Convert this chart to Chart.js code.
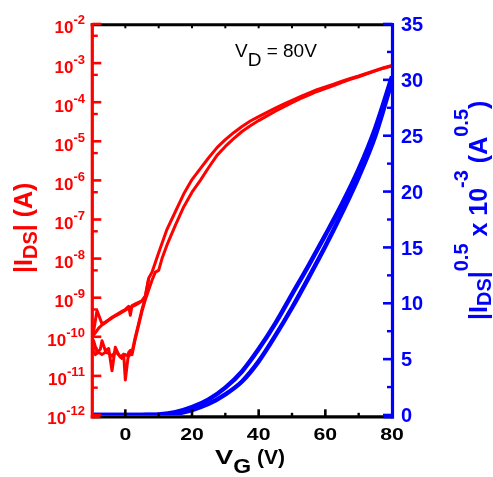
<!DOCTYPE html>
<html><head><meta charset="utf-8">
<script src="https://cdn.jsdelivr.net/npm/chart.js@4.4.1/dist/chart.umd.min.js"></script>
<style>html,body{margin:0;padding:0;background:#fff;overflow:hidden}canvas{display:block}</style>
</head><body>
<canvas id="c" width="493" height="477"></canvas>
<script>
// ---------------- data ----------------
const redUpperVg = [-10,-9.5,-8.5,-7,-6,-5,-4,-3,-2,-1,0,1,1.5,2,3,4,5,6,7,8,9,10,12.5,15,17.5,20,22.5,25,27.5,30,32.5,35,37.5,40,42.5,45,47.5,50,52.5,55,57.5,60,62.5,65,67.5,70,72.5,75,77.5,80];
const redUpperIds = [1.12e-10,1.41e-10,4.68e-10,2.14e-10,2.40e-10,2.75e-10,3.16e-10,3.55e-10,3.98e-10,4.47e-10,
  5.01e-10,6.03e-10,3.55e-10,6.31e-10,6.92e-10,7.59e-10,8.32e-10,1.12e-9,3.16e-9,4.47e-9,7.94e-9,1.41e-8,
  5.62e-8,1.58e-7,4.47e-7,1.05e-6,2.0e-6,3.8e-6,6.9e-6,1.10e-5,1.66e-5,2.40e-5,
  3.31e-5,4.27e-5,5.50e-5,7.08e-5,8.91e-5,1.12e-4,1.38e-4,1.70e-4,2.09e-4,2.45e-4,
  2.88e-4,3.47e-4,4.07e-4,4.68e-4,5.50e-4,6.46e-4,7.59e-4,8.71e-4];

const redUpper2Vg = [-10,-9,-8,-7,-6,-5,-4,-3,-2,-1,0,1,2,3,4,5,6,7];
const redUpper2Ids = [1.0e-10,1.26e-10,1.66e-10,2.0e-10,2.29e-10,2.63e-10,3.02e-10,3.39e-10,3.80e-10,4.27e-10,4.79e-10,5.37e-10,5.89e-10,6.46e-10,7.24e-10,8.32e-10,1.07e-9,3.0e-9];

const redLowerVg = [-10,-9.5,-8.5,-7.5,-7,-6,-5,-4,-3,-2,-1.5,-0.5,0,1,1.5,2,3,4,5,6,7,8,9,10,11,12.5,15,17.5,20,22.5,25,27.5,30,32.5,35,37.5,40,42.5,45,47.5,50,52.5,55,57.5,60,62.5,65,67.5,70,72.5,75,77.5,80];
const redLowerIds = [8.9e-11,7.9e-11,4.0e-11,4.8e-11,7.9e-11,4.4e-11,5.0e-11,1.35e-11,5.4e-11,3.5e-11,
  3.0e-11,3.6e-11,7.9e-12,4.0e-11,4.5e-11,3.5e-11,8.9e-11,2.0e-10,4.5e-10,8.9e-10,
  1.58e-9,2.8e-9,4.5e-9,5.0e-9,1.0e-8,2.24e-8,7.1e-8,2.1e-7,5.0e-7,1.0e-6,
  2.14e-6,4.37e-6,7.4e-6,1.17e-5,1.78e-5,2.51e-5,3.39e-5,4.47e-5,5.89e-5,7.59e-5,
  9.77e-5,1.23e-4,1.51e-4,1.88e-4,2.24e-4,2.66e-4,3.24e-4,3.85e-4,4.47e-4,5.31e-4,
  6.31e-4,7.41e-4,8.51e-4];

const redLower2Vg = [-10,-9,-8,-7,-6,-5,-4,-3,-2,-1,0,1,2,3,4,5,6];
const redLower2Ids = [5.0e-11,3.5e-11,4.0e-11,3.5e-11,4.0e-11,3.8e-11,3.2e-11,4.2e-11,3.5e-11,2.8e-11,3.5e-11,3.2e-11,4.0e-11,1.0e-10,2.2e-10,5.0e-10,1.0e-9];

const blueVg = [-10,0,5,10,15,20,25,30,35,40,45,50,55,60,65,70,75,80];
const blueUpper = [0,0,0.01,0.05,0.25,0.7,1.4,2.45,3.9,5.9,8.2,10.8,13.4,16.1,18.9,22.0,25.7,30.3];
const blueLower = [0,0,0,0,0.1,0.45,1.0,1.85,3.0,4.8,7.1,9.6,12.3,15.1,18.1,21.3,25.0,29.9];

// ---------------- ticks / labels ----------------
const xTickValues = [0,20,40,60,80];
const xTickLabels = ['0','20','40','60','80'];
const xMinorTicks = [10,30,50,70];
const xTopTicks = [0,10,20,30,40,50,60,70];
const logTickValues = [1e-12,1e-11,1e-10,1e-9,1e-8,1e-7,1e-6,1e-5,1e-4,1e-3,1e-2];
const logTickExponents = ['-12','-11','-10','-9','-8','-7','-6','-5','-4','-3','-2'];
const logMinorTicks = [5e-12,5e-11,5e-10,5e-9,5e-8,5e-7,5e-6,5e-5,5e-4,5e-3];
const y2TickValues = [0,5,10,15,20,25,30,35];
const y2TickLabels = ['0','5','10','15','20','25','30','35'];
const y2MinorTicks = [2.5,7.5,12.5,17.5,22.5,27.5,32.5];

const RED = '#ff0000', BLUE = '#0000ff', BLACK = '#000000';
const FONT = '"Liberation Sans", Arial, Helvetica, sans-serif';

function pts(xs, ys){ return xs.map((x,i)=>({x:x, y:ys[i]})); }

function drawRuns(ctx, list, x, y, angle){
  ctx.save();
  ctx.translate(x, y);
  ctx.rotate(angle || 0);
  ctx.textBaseline = 'alphabetic';
  ctx.textAlign = 'left';
  let cx = 0;
  for (const r of list){
    ctx.font = (r.normal ? '' : 'bold ') + r.size + 'px ' + FONT;
    ctx.fillStyle = r.color;
    const sx = r.sx || 1;
    ctx.save();
    ctx.translate(cx, r.dy || 0);
    ctx.scale(sx, 1);
    ctx.fillText(r.t, 0, 0);
    ctx.restore();
    cx += ctx.measureText(r.t).width * sx;
  }
  ctx.restore();
}

function seg(ctx, x1, y1, x2, y2, color, w){
  ctx.beginPath();
  ctx.strokeStyle = color;
  ctx.lineWidth = w;
  ctx.moveTo(x1, y1);
  ctx.lineTo(x2, y2);
  ctx.stroke();
}

const axesPlugin = {
  id: 'originAxes',
  afterDatasetsDraw(chart){
    const ctx = chart.ctx;
    const a = chart.chartArea;
    const xs = chart.scales.x, ys = chart.scales.y, y2 = chart.scales.y2;
    const L = a.left + 0.3, R = a.right + 0.5, T = a.top + 0.8, B = a.bottom + 1.8;
    ctx.save();
    ctx.lineCap = 'butt';
    // top axis (black) with small ticks
    seg(ctx, L - 1.6, T, R + 1.5, T, BLACK, 3);
    for (const v of xTopTicks){ const p = xs.getPixelForValue(v); seg(ctx, p, T, p, T + 3.5, BLACK, 2); }
    // bottom axis (black)
    seg(ctx, L, B, R, B, BLACK, 3.2);
    for (const v of xTickValues){ const p = xs.getPixelForValue(v); if (v < 80) seg(ctx, p, B, p, B - 7.5, BLACK, 2.6); }
    for (const v of xMinorTicks){ const p = xs.getPixelForValue(v); seg(ctx, p, B, p, B - 4, BLACK, 2.4); }
    // coloured ends of the bottom axis
    seg(ctx, L - 1.6, B, L + 8, B, RED, 3.2);
    seg(ctx, R - 9, B, R + 1.5, B, BLUE, 3.2);
    // left axis (red)
    seg(ctx, L, T - 1.5, L, B + 1.6, RED, 3.2);
    for (const v of logTickValues){ const p = ys.getPixelForValue(v); seg(ctx, L, p, L + 9, p, RED, 2.6); }
    for (const v of logMinorTicks){ const p = ys.getPixelForValue(v); seg(ctx, L, p, L + 5.5, p, RED, 2.4); }
    // right axis (blue)
    seg(ctx, R, T - 1.5, R, B + 1.6, BLUE, 3.2);
    for (const v of y2TickValues){ const p = y2.getPixelForValue(v); seg(ctx, R, p, R - 9.5, p, BLUE, 2.6); }
    for (const v of y2MinorTicks){ const p = y2.getPixelForValue(v); seg(ctx, R, p, R - 5.5, p, BLUE, 2.4); }

    // left tick labels 10^n
    ctx.textBaseline = 'alphabetic';
    logTickValues.forEach((v, i) => {
      const p = ys.getPixelForValue(v);
      ctx.font = 'bold 17px ' + FONT;
      const w10 = ctx.measureText('10').width;
      ctx.font = 'bold 13px ' + FONT;
      const we = ctx.measureText(logTickExponents[i]).width;
      const x0 = 85 - w10 - we;
      drawRuns(ctx, [
        {t:'10', size:17, color:RED},
        {t:logTickExponents[i], size:13, color:RED, dy:-9}
      ], x0, p + 9.4, 0);
    });
    // right tick labels
    y2TickValues.forEach((v, i) => {
      const p = y2.getPixelForValue(v);
      drawRuns(ctx, [{t:y2TickLabels[i], size:20, color:BLUE}], 401, p + 7.2, 0);
    });
    // bottom tick labels
    xTickValues.forEach((v, i) => {
      const p = xs.getPixelForValue(v);
      ctx.font = 'bold 17px ' + FONT;
      const w = ctx.measureText(xTickLabels[i]).width * 1.25;
      drawRuns(ctx, [{t:xTickLabels[i], size:17, color:BLACK, sx:1.25}], p - w/2, 440, 0);
    });

    // axis titles
    drawRuns(ctx, [
      {t:'V', size:21, color:BLACK, sx:1.3},
      {t:'G', size:20, color:BLACK, sx:1.15, dy:9},
      {t:' (V)', size:21, color:BLACK}
    ], 215, 464, 0);
    drawRuns(ctx, [
      {t:'|I', size:25, color:RED},
      {t:'DS', size:20, color:RED, dy:5.3},
      {t:'| (A)', size:25, color:RED}
    ], 31.7, 273, -Math.PI/2);
    drawRuns(ctx, [
      {t:'|I', size:25, color:BLUE},
      {t:'DS', size:20, color:BLUE, dy:4},
      {t:'|', size:25, color:BLUE},
      {t:'0.5', size:20, color:BLUE, dy:-19},
      {t:' x 10', size:25, color:BLUE},
      {t:'-3', size:20, color:BLUE, dy:-19},
      {t:' (A', size:25, color:BLUE},
      {t:'0.5', size:20, color:BLUE, dy:-19},
      {t:')', size:25, color:BLUE}
    ], 487, 320, -Math.PI/2);
    // annotation
    drawRuns(ctx, [
      {t:'V', size:19, color:BLACK, normal:true},
      {t:'D', size:19, color:BLACK, normal:true, dy:8.3},
      {t:' = 80V', size:19, color:BLACK, normal:true}
    ], 235, 57.3, 0);
    ctx.restore();
  }
};

const redStyle = {borderColor: RED, borderWidth: 3, pointRadius: 0, tension: 0, yAxisID: 'y', borderJoinStyle: 'round', borderCapStyle: 'round', fill: false};
const blueStyle = {borderColor: BLUE, borderWidth: 4.5, pointRadius: 0, cubicInterpolationMode: 'monotone', yAxisID: 'y2', borderJoinStyle: 'round', fill: false};

new Chart(document.getElementById('c'), {
  type: 'line',
  data: {
    datasets: [
      Object.assign({label:'|IDS| reverse 1', data: pts(redUpperVg, redUpperIds)}, redStyle),
      Object.assign({label:'|IDS| reverse 2', data: pts(redUpper2Vg, redUpper2Ids)}, redStyle),
      Object.assign({label:'|IDS| forward 1', data: pts(redLowerVg, redLowerIds)}, redStyle),
      Object.assign({label:'|IDS| forward 2', data: pts(redLower2Vg, redLower2Ids)}, redStyle),
      Object.assign({label:'sqrt upper', data: pts(blueVg, blueUpper)}, blueStyle),
      Object.assign({label:'sqrt lower', data: pts(blueVg, blueLower)}, blueStyle)
    ]
  },
  options: {
    responsive: false,
    animation: false,
    devicePixelRatio: 1,
    layout: {padding: {top: 24, left: 0, right: 0, bottom: 0}},
    plugins: {legend: {display: false}, tooltip: {enabled: false}},
    scales: {
      x: {type: 'linear', position: 'bottom', min: -10, max: 80,
          grid: {display: false}, border: {display: false}, ticks: {display: false},
          afterFit(s){ s.height = 62; }},
      y: {type: 'logarithmic', position: 'left', min: 1e-12, max: 1e-2,
          grid: {display: false}, border: {display: false}, ticks: {display: false},
          afterFit(s){ s.width = 92; }},
      y2: {type: 'linear', position: 'right', min: 0, max: 35,
          grid: {display: false}, border: {display: false}, ticks: {display: false},
          afterFit(s){ s.width = 101; }}
    }
  },
  plugins: [axesPlugin]
});
</script>
</body></html>
